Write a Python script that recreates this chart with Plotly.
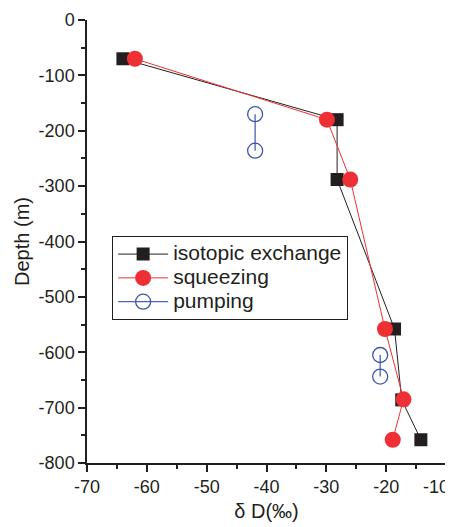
import plotly.graph_objects as go

iso_x = [-64, -28.2, -28.2, -18.6, -17.4, -14.2]
iso_y = [-70, -180, -288, -558, -686, -758]
sq_x = [-62, -29.9, -26.0, -20.2, -17.1, -18.9]
sq_y = [-70, -180, -288, -558, -685, -758]
pu_x = [-41.9, -41.9, None, -21, -21]
pu_y = [-170, -236, None, -605, -644]
names = ["isotopic exchange", "squeezing", "pumping"]
x_ticks = [-70, -60, -50, -40, -30, -20, -10]
x_ticklabels = ["-70", "-60", "-50", "-40", "-30", "-20", "-10"]
y_ticks = [0, -100, -200, -300, -400, -500, -600, -700, -800]
y_ticklabels = ["0", "-100", "-200", "-300", "-400", "-500", "-600", "-700", "-800"]

FONT = "Liberation Sans, Arial, sans-serif"


def lg(t):
    return '<span style="font-size:21px">' + t + '</span>'


fig = go.Figure()
fig.add_trace(go.Scatter(x=iso_x, y=iso_y, mode="lines+markers", name=lg(names[0]),
                         line=dict(color="#231f20", width=1),
                         marker=dict(symbol="square", size=13, color="#231f20")))
fig.add_trace(go.Scatter(x=sq_x, y=sq_y, mode="lines+markers", name=lg(names[1]),
                         line=dict(color="#ee3035", width=1),
                         marker=dict(symbol="circle", size=16, color="#ee3035")))
fig.add_trace(go.Scatter(x=pu_x, y=pu_y, mode="lines+markers", name=lg(names[2]),
                         connectgaps=False,
                         line=dict(color="#4d62b3", width=1.3),
                         marker=dict(symbol="circle-open", size=15, color="#3f55ad",
                                     line=dict(width=1.3))))

# last x tick label: drawn right-aligned so it stays inside the page
fig.add_annotation(x=x_ticks[-1], xref="x", y=0, yref="paper", text=x_ticklabels[-1],
                   showarrow=False, xanchor="right", yanchor="top", xshift=5, yshift=-12,
                   font=dict(family=FONT, size=18, color="#231f20"))

fig.update_layout(
    width=445, height=519,
    margin=dict(l=79, r=7, t=12, b=64, autoexpand=False),
    paper_bgcolor="white", plot_bgcolor="white",
    font=dict(family=FONT, size=18, color="#231f20"),
    showlegend=True,
    legend=dict(x=0.07, y=0.512, xanchor="left", yanchor="top",
                bgcolor="white", bordercolor="#231f20", borderwidth=1,
                font=dict(size=16), tracegroupgap=0, itemwidth=50),
)
fig.update_xaxes(range=[-70, -10], tickmode="array", tickvals=x_ticks,
                 ticktext=x_ticklabels[:-1] + [""],
                 showgrid=False, zeroline=False,
                 showline=True, linecolor="#231f20", linewidth=1.5,
                 ticks="outside", ticklen=7, tickwidth=1.5, tickcolor="#231f20",
                 automargin=False,
                 minor=dict(dtick=5, ticks="outside", ticklen=4, tickwidth=1.5, tickcolor="#231f20"),
                 title=dict(text="δ D(‰)", font=dict(size=20), standoff=8),
                 tickfont=dict(size=18))
fig.update_yaxes(range=[-800, 0], tickmode="array", tickvals=y_ticks, ticktext=y_ticklabels,
                 showgrid=False, zeroline=False,
                 showline=True, linecolor="#231f20", linewidth=1.5,
                 ticks="outside", ticklen=7, tickwidth=1.5, tickcolor="#231f20",
                 automargin=False,
                 minor=dict(dtick=50, ticks="outside", ticklen=4, tickwidth=1.5, tickcolor="#231f20"),
                 title=dict(text="Depth (m)", font=dict(size=20), standoff=4),
                 tickfont=dict(size=18))
fig.write_html("out.html")
